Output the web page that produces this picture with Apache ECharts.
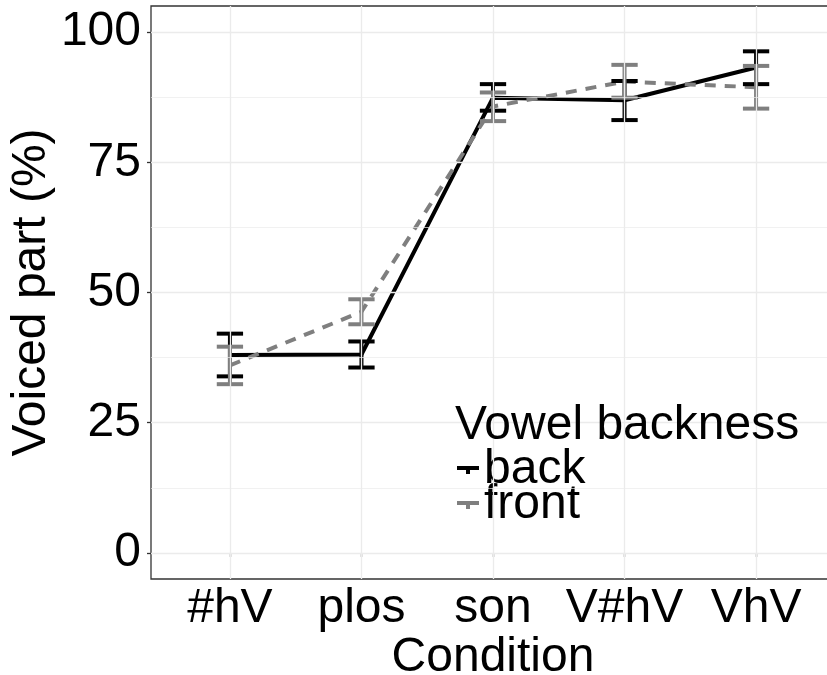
<!DOCTYPE html>
<html>
<head>
<meta charset="utf-8">
<script src="https://cdn.jsdelivr.net/npm/echarts@6/dist/echarts.min.js"></script>
<style>
  html, body { margin: 0; padding: 0; background: #ffffff; }
  #chart { width: 827px; height: 675px; }
</style>
</head>
<body>
<div id="chart"></div>
<script>
// Voiced part (%) by condition, split by vowel backness (mean with error bars)
const conditions = ['#hV', 'plos', 'son', 'V#hV', 'VhV'];

const backMean  = [38.0, 38.1, 87.4, 86.9, 93.2];
const backLow   = [33.9, 35.6, 84.9, 83.1, 90.0];
const backHigh  = [42.1, 40.6, 90.0, 90.6, 96.3];

const frontMean = [36.0, 46.3, 85.7, 90.5, 89.4];
const frontLow  = [32.4, 43.9, 82.9, 87.4, 85.3];
const frontHigh = [39.6, 48.7, 88.4, 93.7, 93.5];

const groupNames = ['back', 'front'];
const yTicks = [0, 25, 50, 75, 100];
const yMinorTicks = [12.5, 37.5, 62.5, 87.5];

const FONT = "'Liberation Sans', Arial, sans-serif";
const BLACK = '#000000';
const GREY = '#7f7f7f';

const xPos = conditions.map((c, i) => i + 1);
const meanPoints = (means) => xPos.map((x, i) => [x, means[i]]);
const barPoints = (lo, hi) => xPos.map((x, i) => [x, lo[i], hi[i]]);

// error bar: vertical segment with caps, cap half-width in category units
function errorBarItem(params, api) {
  const x = api.value(0), lo = api.value(1), hi = api.value(2);
  const hw = 0.1;
  const b = api.coord([x, lo]), t = api.coord([x, hi]);
  const bl = api.coord([x - hw, lo]), br = api.coord([x + hw, lo]);
  const tl = api.coord([x - hw, hi]), tr = api.coord([x + hw, hi]);
  const style = { stroke: api.visual('color'), lineWidth: 4, lineCap: 'butt', fill: null };
  return {
    type: 'group',
    children: [
      { type: 'line', shape: { x1: b[0], y1: b[1], x2: t[0], y2: t[1] }, style: style },
      { type: 'line', shape: { x1: bl[0], y1: bl[1], x2: br[0], y2: br[1] }, style: style },
      { type: 'line', shape: { x1: tl[0], y1: tl[1], x2: tr[0], y2: tr[1] }, style: style }
    ]
  };
}

const keyIcon = 'path://M0,0 H22 V4 H13 V8 H9 V4 H0 Z';

const gridLines = [].concat(
  yTicks.map(v => ({ yAxis: v, lineStyle: { color: '#ebebeb', width: 1.3, type: 'solid' } })),
  yMinorTicks.map(v => ({ yAxis: v, lineStyle: { color: '#ebebeb', width: 0.7, type: 'solid' } })),
  xPos.map(v => ({ xAxis: v, lineStyle: { color: '#ebebeb', width: 1.3, type: 'solid' } }))
);

const chart = echarts.init(document.getElementById('chart'), null, { renderer: 'canvas' });

chart.setOption({
  animation: false,
  backgroundColor: '#ffffff',
  textStyle: { fontFamily: FONT },
  title: {
    text: 'Vowel backness',
    left: 455,
    top: 402,
    padding: 0,
    textStyle: { fontFamily: FONT, fontSize: 48, fontWeight: 'normal', color: BLACK }
  },
  legend: {
    orient: 'vertical',
    left: 457,
    top: 446,
    padding: 0,
    itemGap: -13,
    itemWidth: 22,
    itemHeight: 8,
    selectedMode: false,
    textStyle: { fontFamily: FONT, fontSize: 48, color: BLACK },
    data: [
      { name: groupNames[0], icon: keyIcon },
      { name: groupNames[1], icon: keyIcon }
    ]
  },
  grid: {
    left: 151,
    top: 6,
    width: 684,
    height: 573,
    containLabel: false,
    outerBoundsMode: 'none',
    show: true,
    borderColor: '#333333',
    borderWidth: 1.3,
    backgroundColor: 'transparent'
  },
  xAxis: {
    type: 'value',
    min: 0.4,
    max: 5.6,
    name: 'Condition',
    nameLocation: 'middle',
    nameGap: 55,
    nameMoveOverlap: false,
    nameTextStyle: { fontFamily: FONT, fontSize: 48, color: BLACK },
    axisLine: { show: false },
    axisTick: { show: true, length: 4, customValues: xPos, lineStyle: { color: '#333333', width: 1.3 } },
    axisLabel: {
      customValues: xPos,
      margin: 6,
      fontFamily: FONT,
      fontSize: 48,
      color: BLACK,
      formatter: (v) => conditions[Math.round(v) - 1] || ''
    },
    splitLine: { show: false },
    minorSplitLine: { show: false }
  },
  yAxis: {
    type: 'value',
    min: -5,
    max: 105,
    name: 'Voiced part (%)',
    nameLocation: 'middle',
    nameRotate: 90,
    nameGap: 95,
    nameMoveOverlap: false,
    nameTextStyle: { fontFamily: FONT, fontSize: 48, color: BLACK },
    axisLine: { show: false },
    axisTick: { show: true, length: 4, customValues: yTicks, lineStyle: { color: '#333333', width: 1.3 } },
    axisLabel: {
      customValues: yTicks,
      margin: 10,
      fontFamily: FONT,
      fontSize: 48,
      color: BLACK,
      formatter: (v) => String(v)
    },
    splitLine: { show: false },
    minorSplitLine: { show: false }
  },
  series: [
    {
      name: 'grid',
      type: 'line',
      data: [],
      z: 0,
      silent: true,
      markLine: { silent: true, symbol: 'none', label: { show: false }, animation: false, data: gridLines }
    },
    {
      name: groupNames[0],
      type: 'line',
      data: meanPoints(backMean),
      symbol: 'none',
      color: BLACK,
      lineStyle: { color: BLACK, width: 4, cap: 'butt' },
      z: 2
    },
    {
      name: groupNames[1],
      type: 'line',
      data: meanPoints(frontMean),
      symbol: 'none',
      color: GREY,
      lineStyle: { color: GREY, width: 4, type: [11, 9], cap: 'butt' },
      z: 2
    },
    {
      name: 'back-err',
      type: 'custom',
      renderItem: errorBarItem,
      data: barPoints(backLow, backHigh),
      itemStyle: { color: BLACK },
      encode: { x: 0, y: [1, 2] },
      z: 3
    },
    {
      name: 'front-err',
      type: 'custom',
      renderItem: errorBarItem,
      data: barPoints(frontLow, frontHigh),
      itemStyle: { color: GREY },
      encode: { x: 0, y: [1, 2] },
      z: 3
    }
  ]
});
</script>
</body>
</html>
